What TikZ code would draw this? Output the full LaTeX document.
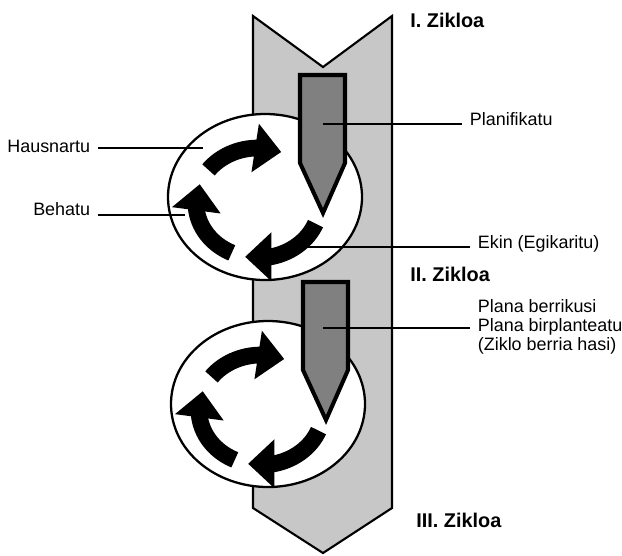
\documentclass[tikz,border=0pt]{standalone}
\usepackage{fontspec}
\setmainfont{Liberation Sans}
\usetikzlibrary{arrows.meta,bending}
\definecolor{banda}{gray}{.78}
\definecolor{luma}{gray}{.5}
\tikzset{
	lbl/.style={font=\fontsize{10.2}{11}\selectfont, inner sep=0pt, outer xsep=4.5pt},
	ziklo/.style={font=\fontsize{11.3}{13}\selectfont\bfseries, inner sep=0pt},
	gezia/.style={line width=9.5pt, -{Triangle[width=27pt,length=15pt,flex]}},
	lerro/.style={line width=.9pt}
}
\begin{document}
\begin{tikzpicture}[x=.02cm, y=-.02cm, line join=miter]
	\useasboundingbox (0,0) rectangle (622,555);
	\draw[fill=banda, line width=1.2pt] (253,16) -- (323,67) -- (392,16) -- (392,508)
		-- (323,553) -- (253,508) -- cycle;
	% two cycles: ellipse, three turning arrows and the pen
	\foreach \dx/\dy in {0/0, 3/207}{
		\begin{scope}[shift={(\dx,\dy)}]
			\draw[fill=white, line width=1.3pt] (265,197) ellipse [x radius=97, y radius=83];
			\coordinate (c) at (258,203);
			\foreach \a/\b in {-143/-68, -245/-160, 22/102}
				\draw[gezia] ([shift={(\a:62 and 55)}]c) arc[start angle=\a, end angle=\b, x radius=62, y radius=55];
			\draw[fill=luma, line width=2.3pt] (300,75) -- (345,75) -- (345,163) -- (323,213) -- (300,163) -- cycle;
		\end{scope}
	}
	\node[ziklo, anchor=west] (z1) at (410,20) {I. Zikloa};
	\node[ziklo, anchor=west] (z2) at (410,274) {II. Zikloa};
	\node[ziklo, anchor=west] (z3) at (416,520) {III. Zikloa};
	\node[lbl, anchor=base west] (planifikatu) at (462,125) {Planifikatu};
	\node[lbl, anchor=base west] (ekin) at (470,248) {Ekin (Egikaritu)};
	\node[lbl, anchor=west, align=left] (plana) at (470,327) {Plana berrikusi\\Plana birplanteatu\\(Ziklo berria hasi)};
	\node[lbl, anchor=base east] (hausnartu) at (98,152) {Hausnartu};
	\node[lbl, anchor=base east] (behatu) at (98,215) {Behatu};
	\coordinate (p1) at (323,124);
	\coordinate (e1) at (307,247);
	\coordinate (p2) at (323,328);
	\coordinate (h1) at (203,148);
	\coordinate (b1) at (185,215);
	\draw[lerro] (p1) -- (p1 -| planifikatu.west);
	\draw[lerro] (e1) -- (e1 -| ekin.west);
	\draw[lerro] (p2) -- (p2 -| plana.west);
	\draw[lerro] (hausnartu.east |- h1) -- (h1);
	\draw[lerro] (behatu.east |- b1) -- (b1);
\end{tikzpicture}
\end{document}
